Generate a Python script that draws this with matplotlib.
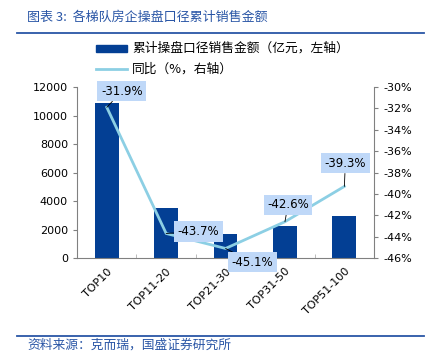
import matplotlib.pyplot as plt
import numpy as np

plt.rcParams['font.family'] = ['DejaVu Sans', 'Noto Sans CJK SC']

# data
categories = ['TOP10', 'TOP11-20', 'TOP21-30', 'TOP31-50', 'TOP51-100']
sales = [10900, 3500, 1680, 2270, 2950]
yoy = [-31.9, -43.7, -45.1, -42.6, -39.3]
# label offsets (pixels) for the data labels
label_off = [(15, 16), (32, 2), (27, -14), (3, 17), (1, 23)]

bar_color = '#033f94'
line_color = '#8ccfe4'
box_color = '#bfd8f8'
title_color = '#2a56a6'
cjk = ['Noto Sans CJK SC', 'DejaVu Sans']

fig = plt.figure(figsize=(4.38, 3.64), dpi=100)
ax = fig.add_axes([0.176, 0.291, 0.678, 0.470])
x = np.arange(len(categories))

ax.bar(x, sales, width=0.4, color=bar_color, zorder=2)
ax.set_xlim(-0.5, len(categories) - 0.5)
ax.set_ylim(0, 12000)
ax.set_yticks(np.arange(0, 12001, 2000))
ax.tick_params(axis='y', labelsize=8, direction='out', length=3, color='#808080')
ax.set_xticks(x)
ax.set_xticklabels(categories, rotation=45, ha='right', rotation_mode='anchor', fontsize=8)
ax.tick_params(axis='x', length=0, pad=6)
ax.set_xticks(np.arange(0.5, len(categories) - 0.5, 1), minor=True)
ax.tick_params(axis='x', which='minor', direction='in', length=3, color='#b0b0b0')
ax.spines['top'].set_visible(False)
ax.spines['right'].set_visible(False)
ax.spines['left'].set_color('#808080')
ax.spines['bottom'].set_color('#808080')

ax2 = ax.twinx()
ax2.plot(x, yoy, color=line_color, lw=2, zorder=3)
ax2.set_ylim(-46, -30)
ax2.set_yticks(np.arange(-46, -29, 2))
ax2.set_yticklabels([f'{v}%' for v in range(-46, -29, 2)])
ax2.tick_params(axis='y', labelsize=8, direction='out', length=3, color='#808080')
ax2.spines['right'].set_color('#808080')
for s in ['top', 'left', 'bottom']:
    ax2.spines[s].set_visible(False)

for xi, v, (dx, dy) in zip(x, yoy, label_off):
    ax2.annotate(f'{v:.1f}%', xy=(xi, v), xytext=(dx, dy), textcoords='offset pixels',
                 ha='center', va='center', fontsize=8.5,
                 bbox=dict(boxstyle='square,pad=0.3', fc=box_color, ec='none'),
                 arrowprops=dict(arrowstyle='-', color='black', lw=0.6, shrinkA=0, shrinkB=0),
                 zorder=5, annotation_clip=False)

# title, rules, legend and source
fig.text(0.062, 0.953, '图表 3:  各梯队房企操盘口径累计销售金额', family=cjk, fontsize=9.4,
         color=title_color, style='italic', va='center')
fig.add_artist(plt.Line2D([0.039, 0.968], [0.909, 0.909], color=title_color, lw=1.3))
fig.add_artist(plt.Line2D([0.039, 0.968], [0.077, 0.077], color=title_color, lw=1.3))
fig.text(0.062, 0.052, '资料来源：克而瑞，国盛证券研究所', family=cjk, fontsize=9.2,
         color=title_color, style='italic', va='center')

fig.add_artist(plt.Rectangle((0.219, 0.858), 0.071, 0.018, color=bar_color))
fig.text(0.302, 0.867, '累计操盘口径销售金额（亿元，左轴）', family=cjk, fontsize=9.2, va='center')
fig.add_artist(plt.Line2D([0.219, 0.290], [0.810, 0.810], color=line_color, lw=2))
fig.text(0.302, 0.810, '同比（%，右轴）', family=cjk, fontsize=9.2, va='center')

fig.savefig('out.png', dpi=100)
